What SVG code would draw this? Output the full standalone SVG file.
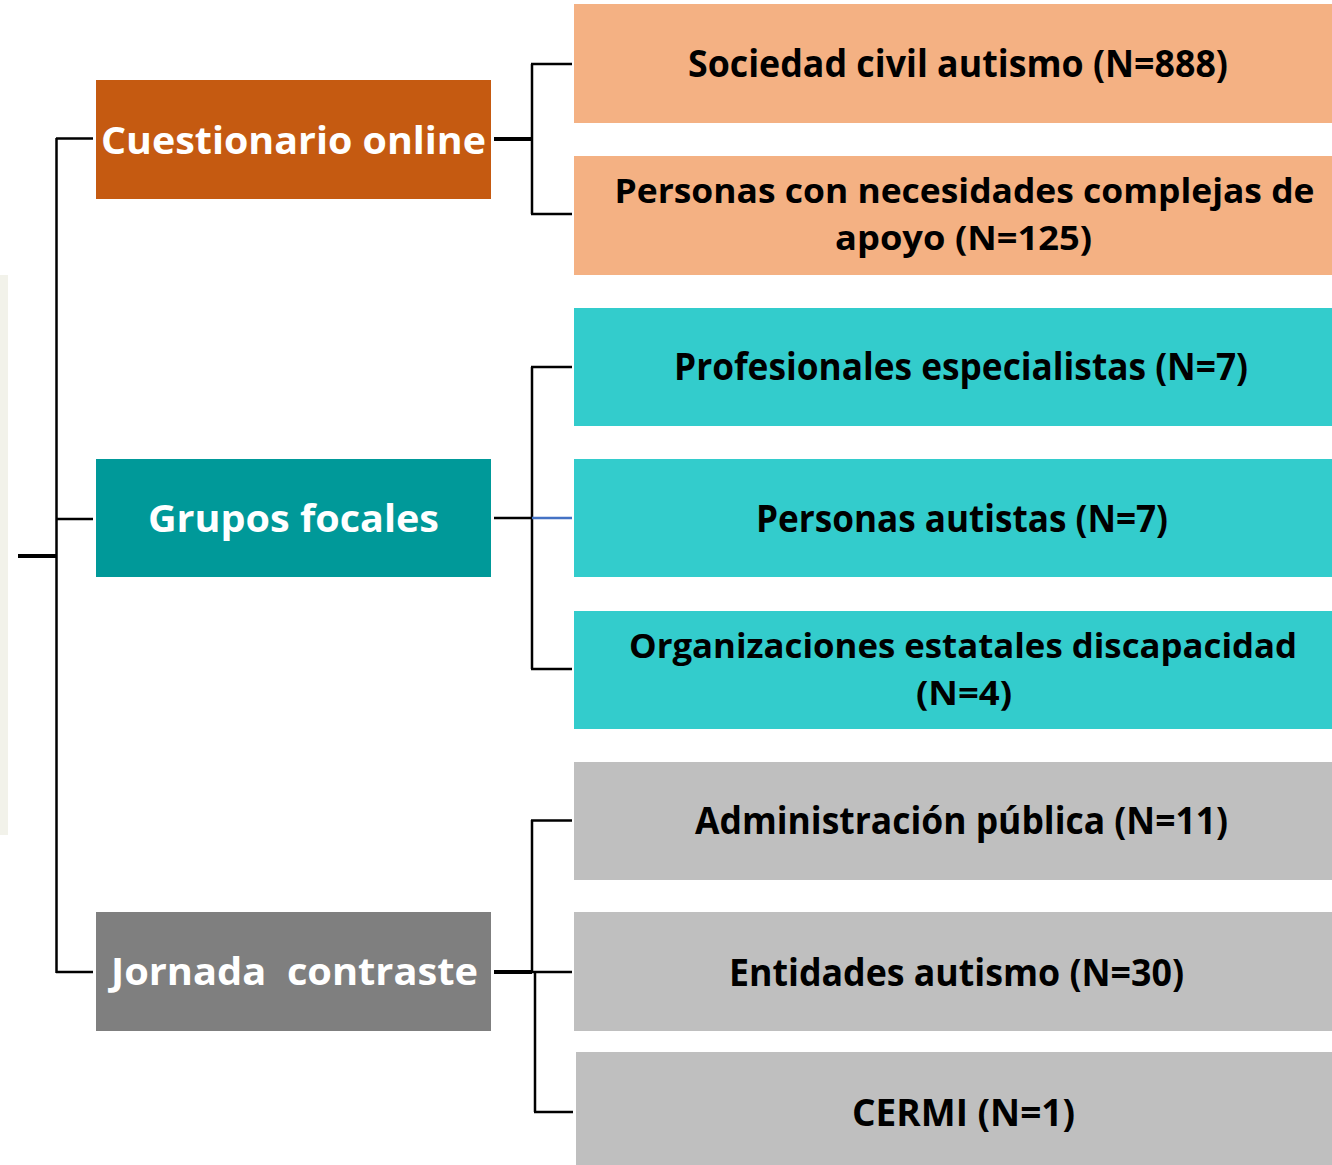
<svg xmlns="http://www.w3.org/2000/svg" width="1332" height="1165" viewBox="0 0 1332 1165">
<style>
.t{font-family:"Open Sans","Liberation Sans",sans-serif;font-weight:bold;font-size:37px;text-anchor:middle}
.s{font-size:34.5px}
.w{fill:#ffffff}
.b{fill:#000000}
.ln{stroke:#000;stroke-width:2.5;fill:none}
.th{stroke:#000;stroke-width:4;fill:none}
</style>
<rect x="0" y="0" width="1332" height="1165" fill="#ffffff"/>
<rect x="0" y="275" width="8" height="560" fill="#f2f2ea"/>
<g id="connectors">
<path class="th" d="M18 556 H56"/>
<path class="ln" d="M56.5 138 V973 M56 138.5 H93 M56 519 H93 M56 972 H93"/>
<path class="th" d="M494 139 H532"/>
<path class="ln" d="M532 64 V214 M531 64 H572 M531 214 H572"/>
<path class="ln" d="M494 518 H532 M532 367 V669 M531 367 H572 M531 669 H572"/>
<path d="M532 518 H572" stroke="#4472c4" stroke-width="2.5"/>
<path class="ln" d="M532 820 V972 M531 820.5 H572 M494 972 H572 M535 972 V1112 M534 1112 H573"/>
<path class="th" d="M494 972 H532"/>
</g>
<g id="n-cuestionario">
<rect x="96" y="80" width="395" height="119" fill="#c55a11"/>
<text class="t w" x="293.5" y="154" textLength="385" lengthAdjust="spacingAndGlyphs">Cuestionario online</text>
</g>
<g id="n-grupos">
<rect x="96" y="459" width="395" height="118" fill="#009999"/>
<text class="t w" x="293.5" y="532" textLength="291" lengthAdjust="spacingAndGlyphs">Grupos focales</text>
</g>
<g id="n-jornada">
<rect x="96" y="912" width="395" height="119" fill="#7f7f7f"/>
<text class="t w" x="294.5" y="985" textLength="367" lengthAdjust="spacingAndGlyphs" xml:space="preserve">Jornada  contraste</text>
</g>
<g id="n-sociedad">
<rect x="574" y="4" width="758" height="119" fill="#f4b183"/>
<text class="t b" x="958" y="77" textLength="540" lengthAdjust="spacingAndGlyphs">Sociedad civil autismo (N=888)</text>
</g>
<g id="n-complejas">
<rect x="574" y="156" width="758" height="119" fill="#f4b183"/>
<text class="t s b" x="964.5" y="203" textLength="700" lengthAdjust="spacingAndGlyphs">Personas con necesidades complejas de</text>
<text class="t s b" x="963.5" y="250" textLength="257" lengthAdjust="spacingAndGlyphs">apoyo (N=125)</text>
</g>
<g id="n-profesionales">
<rect x="574" y="308" width="758" height="118" fill="#33cccc"/>
<text class="t b" x="961" y="380" textLength="574" lengthAdjust="spacingAndGlyphs">Profesionales especialistas (N=7)</text>
</g>
<g id="n-autistas">
<rect x="574" y="459" width="758" height="118" fill="#33cccc"/>
<text class="t b" x="962" y="532" textLength="412" lengthAdjust="spacingAndGlyphs">Personas autistas (N=7)</text>
</g>
<g id="n-organizaciones">
<rect x="574" y="611" width="758" height="118" fill="#33cccc"/>
<text class="t s b" x="963" y="658" textLength="668" lengthAdjust="spacingAndGlyphs">Organizaciones estatales discapacidad</text>
<text class="t s b" x="964" y="705" textLength="96" lengthAdjust="spacingAndGlyphs">(N=4)</text>
</g>
<g id="n-administracion">
<rect x="574" y="762" width="758" height="118" fill="#bfbfbf"/>
<text class="t b" x="961.5" y="834" textLength="533" lengthAdjust="spacingAndGlyphs">Administración pública (N=11)</text>
</g>
<g id="n-entidades">
<rect x="574" y="912" width="758" height="119" fill="#bfbfbf"/>
<text class="t b" x="956.5" y="986" textLength="455" lengthAdjust="spacingAndGlyphs">Entidades autismo (N=30)</text>
</g>
<g id="n-cermi">
<rect x="576" y="1052" width="756" height="113" fill="#bfbfbf"/>
<text class="t b" x="963.5" y="1126" textLength="223" lengthAdjust="spacingAndGlyphs">CERMI (N=1)</text>
</g>
</svg>
